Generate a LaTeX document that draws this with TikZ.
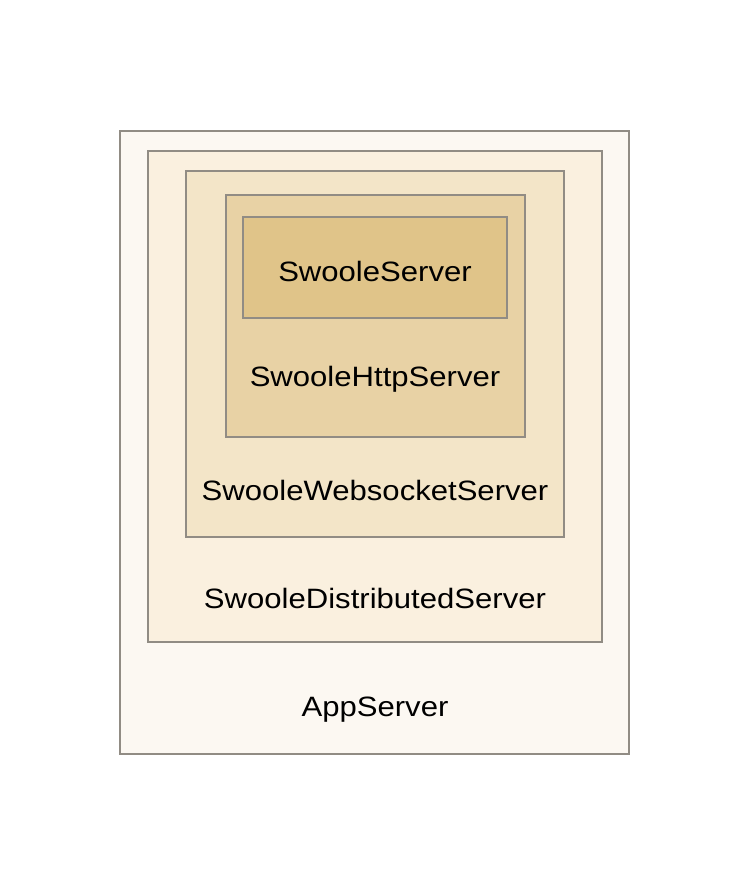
\documentclass[tikz,border=0pt]{standalone}
\usepackage{fontspec}
\setmainfont[FakeStretch=1.11]{Liberation Sans}
\definecolor{bordc}{HTML}{918C84}
\definecolor{fa}{HTML}{FCF8F2}
\definecolor{fb}{HTML}{FAF0DF}
\definecolor{fc}{HTML}{F3E5C8}
\definecolor{fd}{HTML}{E8D2A5}
\definecolor{fe}{HTML}{E0C489}
\tikzset{
  box/.style={draw=bordc, line width=2pt, rectangle, inner sep=0pt},
  lbl/.style={font=\fontsize{28pt}{32pt}\selectfont, text=black, inner sep=0pt, anchor=base}
}
\begin{document}
\begin{tikzpicture}[x=1pt,y=-1pt]
\useasboundingbox[fill=white] (0,0) rectangle (750,880);
\node[box, fill=fa, minimum width=509pt, minimum height=623pt] (app) at (374.5,442.5) {};
\node[box, fill=fb, minimum width=454pt, minimum height=491pt] (dist) at (375,396.5) {};
\node[box, fill=fc, minimum width=378pt, minimum height=366pt] (ws) at (375,354) {};
\node[box, fill=fd, minimum width=299pt, minimum height=242pt] (http) at (375.5,316) {};
\node[box, fill=fe, minimum width=264pt, minimum height=101pt] (sw) at (375,267.5) {};
\node[lbl] (tsw) at (375,281) {SwooleServer};
\node[lbl] (thttp) at (375,386) {SwooleHttpServer};
\node[lbl] (tws) at (375,500) {SwooleWebsocketServer};
\node[lbl] (tdist) at (375,608) {SwooleDistributedServer};
\node[lbl] (tapp) at (375,716) {AppServer};
\end{tikzpicture}
\end{document}
